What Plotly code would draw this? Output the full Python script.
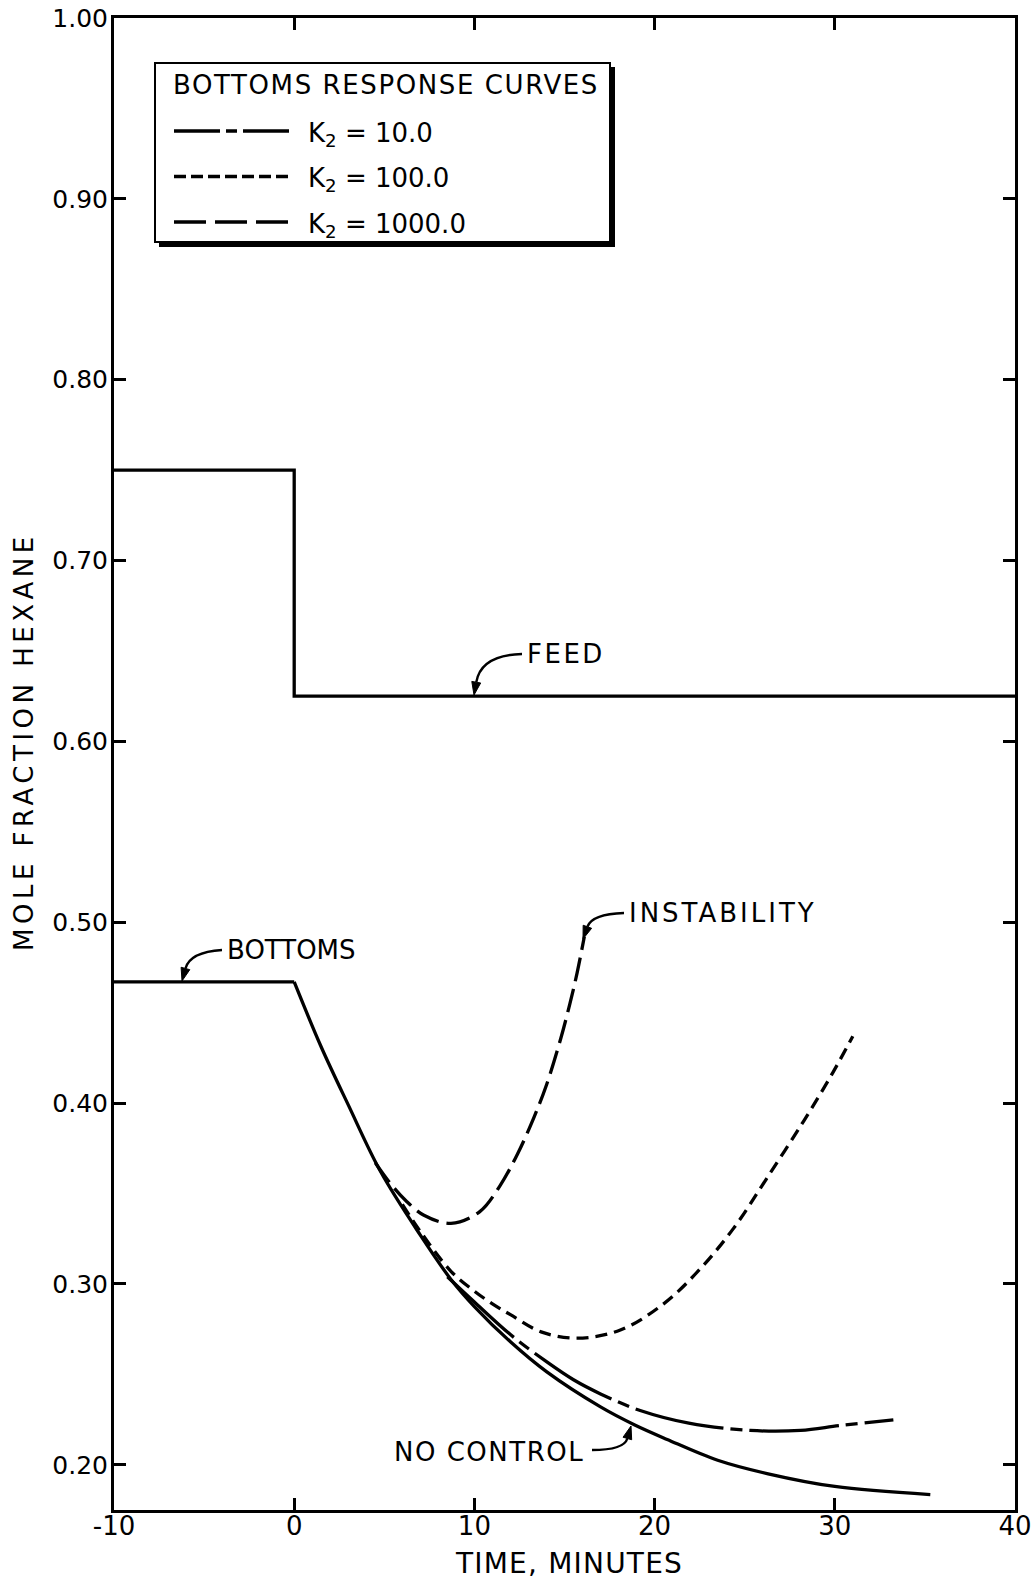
import math
import plotly.graph_objects as go

# ---- data (time in minutes, mole fraction hexane) ----
feed_time = [-10, 0, 0, 40]
feed_frac = [0.75, 0.75, 0.625, 0.625]

steady_time = [-10, 0]
steady_frac = [0.467, 0.467]

nc_time = [0, 1.5, 3.0, 4.8, 7.0, 8.7, 10, 12, 14, 17, 18.9, 20.7, 23.5, 26.3, 30.0, 35.3]
nc_frac = [0.467, 0.431, 0.399, 0.362, 0.327, 0.3025, 0.2875, 0.268, 0.2515, 0.232,
           0.222, 0.214, 0.2025, 0.195, 0.188, 0.1835]

k10_time = [8.5, 10, 12, 14, 15.5, 17, 19.2, 21.9, 25.3, 28.1, 30.3, 33.25]
k10_frac = [0.304, 0.290, 0.272, 0.257, 0.247, 0.2392, 0.230, 0.223, 0.219, 0.219,
            0.2217, 0.2248]

k100_time = [6.0, 7.0, 8.7, 10, 11, 12, 13.7, 15.7, 18.1, 20.5, 22.5, 24.4, 26.2,
             28.3, 29.9, 31.0]
k100_frac = [0.344, 0.329, 0.307, 0.296, 0.289, 0.283, 0.2735, 0.270, 0.2745, 0.289,
             0.308, 0.331, 0.358, 0.3905, 0.417, 0.437]

k1000_time = [4.5, 5.3, 6.2, 7.2, 8.7, 10.3, 11.4, 12.4, 13.3, 14.0, 14.8, 15.3,
              15.7, 16.1]
k1000_frac = [0.367, 0.356, 0.346, 0.338, 0.3335, 0.340, 0.354, 0.372, 0.392, 0.410,
              0.436, 0.455, 0.472, 0.492]

x_ticks = [-10, 0, 10, 20, 30, 40]
x_tick_text = ["-10", "0", "10", "20", "30", "40"]
y_ticks = [0.20, 0.30, 0.40, 0.50, 0.60, 0.70, 0.80, 0.90, 1.00]
y_tick_text = ["0.20", "0.30", "0.40", "0.50", "0.60", "0.70", "0.80", "0.90", "1.00"]

legend_entries = [("10.0", "46px,6px,11px,6px"),
                  ("100.0", "12px,5px"),
                  ("1000.0", "32px,9px")]

# ---- page geometry ----
W, H = 1033, 1583
ML, MR, MT, MB = 114, 18, 18, 73
PW, PH = W - ML - MR, H - MT - MB
FONT = "DejaVu Sans"
INK = "black"


def px(x):
    return (x - ML) / PW


def py(y):
    return (H - MB - y) / PH


def spaced(text, gap):
    if gap <= 0:
        return text
    return '<span style="letter-spacing:{}px">{}</span>'.format(gap, text)


fig = go.Figure()

line_kw = dict(color=INK, width=3.3)
fig.add_trace(go.Scatter(x=feed_time, y=feed_frac, mode="lines", line=line_kw))
fig.add_trace(go.Scatter(x=steady_time, y=steady_frac, mode="lines", line=line_kw))
fig.add_trace(go.Scatter(x=nc_time, y=nc_frac, mode="lines",
                         line=dict(line_kw, shape="spline", smoothing=1.0)))
fig.add_trace(go.Scatter(x=k10_time, y=k10_frac, mode="lines",
                         line=dict(line_kw, shape="spline", smoothing=1.0,
                                   dash="90px,7px,12px,7px")))
fig.add_trace(go.Scatter(x=k100_time, y=k100_frac, mode="lines",
                         line=dict(line_kw, shape="spline", smoothing=1.0,
                                   dash="12px,7px")))
fig.add_trace(go.Scatter(x=k1000_time, y=k1000_frac, mode="lines",
                         line=dict(line_kw, shape="spline", smoothing=1.0,
                                   dash="24px,8px")))

shapes = []
annotations = []

# ---- legend box with drop shadow ----
bx0, by0, bx1, by1 = 155, 63, 610, 242
shapes.append(dict(type="rect", xref="paper", yref="paper",
                   x0=px(bx0), x1=px(bx1), y0=py(by1), y1=py(by0),
                   line=dict(color=INK, width=2), fillcolor="white"))
shapes.append(dict(type="line", xref="paper", yref="paper",
                   x0=px(bx1 + 3), x1=px(bx1 + 3), y0=py(by0 + 4), y1=py(by1 + 5),
                   line=dict(color=INK, width=4)))
shapes.append(dict(type="line", xref="paper", yref="paper",
                   x0=px(bx0 + 4), x1=px(bx1 + 5), y0=py(by1 + 3), y1=py(by1 + 3),
                   line=dict(color=INK, width=4)))
annotations.append(dict(xref="paper", yref="paper", x=px(171), y=py(85),
                        xanchor="left", yanchor="middle", showarrow=False,
                        text=spaced("BOTTOMS RESPONSE CURVES", 1.6),
                        font=dict(family=FONT, size=26, color=INK)))
for i, (label, dash) in enumerate(legend_entries):
    yy = 131 + i * 45.5
    shapes.append(dict(type="line", xref="paper", yref="paper",
                       x0=px(174), x1=px(290), y0=py(yy), y1=py(yy),
                       line=dict(color=INK, width=3.3, dash=dash)))
    annotations.append(dict(xref="paper", yref="paper", x=px(306), y=py(yy + 3),
                            xanchor="left", yanchor="middle", showarrow=False,
                            text="K<sub>2</sub> = " + label,
                            font=dict(family=FONT, size=26, color=INK)))


# ---- curved leader arrows for the curve labels ----
def leader(start, ctrl, tip):
    dx, dy = tip[0] - ctrl[0], tip[1] - ctrl[1]
    n = math.hypot(dx, dy)
    ux, uy = dx / n, dy / n
    hl, hw = 13, 4.5
    bx, by = tip[0] - ux * hl, tip[1] - uy * hl
    path = "M {},{} Q {},{} {},{}".format(px(start[0]), py(start[1]),
                                          px(ctrl[0]), py(ctrl[1]),
                                          px(bx), py(by))
    shapes.append(dict(type="path", xref="paper", yref="paper", path=path,
                       line=dict(color=INK, width=2.4)))
    lx, ly = bx - uy * hw, by + ux * hw
    rx, ry = bx + uy * hw, by - ux * hw
    head = "M {},{} L {},{} L {},{} Z".format(px(tip[0]), py(tip[1]),
                                              px(lx), py(ly), px(rx), py(ry))
    shapes.append(dict(type="path", xref="paper", yref="paper", path=head,
                       line=dict(color=INK, width=1), fillcolor=INK))


def label(text, x, y, gap=0.0, anchor="left"):
    annotations.append(dict(xref="paper", yref="paper", x=px(x), y=py(y),
                            xanchor=anchor, yanchor="middle", showarrow=False,
                            text=spaced(text, gap),
                            font=dict(family=FONT, size=26, color=INK)))


label("FEED", 525, 654, gap=2.5)
leader((522, 654), (481, 655), (474, 695))

label("BOTTOMS", 225, 950)
leader((222, 950), (190, 952), (182, 981))

label("INSTABILITY", 627, 913, gap=3)
leader((624, 913), (592, 914), (583, 939))

label("NO CONTROL", 586, 1452, gap=1.5, anchor="right")
leader((592, 1450), (624, 1450), (631, 1426))

# ---- axis titles ----
annotations.append(dict(xref="paper", yref="paper", x=px(24), y=py(742),
                        xanchor="center", yanchor="middle", showarrow=False,
                        textangle=-90, text=spaced("MOLE FRACTION HEXANE", 4.5),
                        font=dict(family=FONT, size=26, color=INK)))
annotations.append(dict(xref="paper", yref="paper", x=px(569), y=py(1564),
                        xanchor="center", yanchor="middle", showarrow=False,
                        text=spaced("TIME, MINUTES", 1.2),
                        font=dict(family=FONT, size=28, color=INK)))

axis_common = dict(showline=True, linecolor=INK, linewidth=3, mirror="ticks",
                   ticks="inside", ticklen=12, tickwidth=2.5, tickcolor=INK,
                   showgrid=False, zeroline=False, automargin=False)

fig.update_layout(
    width=W, height=H,
    margin=dict(l=ML, r=MR, t=MT, b=MB, pad=0, autoexpand=False),
    paper_bgcolor="white", plot_bgcolor="white",
    showlegend=False,
    shapes=shapes, annotations=annotations,
    xaxis=dict(axis_common, range=[-10, 40], tickvals=x_ticks, ticktext=x_tick_text,
               ticklabelstandoff=-9,
               tickfont=dict(family=FONT, size=26, color=INK)),
    yaxis=dict(axis_common, range=[0.175, 1.0], tickvals=y_ticks, ticktext=y_tick_text,
               ticklabelstandoff=-2,
               tickfont=dict(family=FONT, size=25, color=INK)),
)

fig.write_html("out.html")
